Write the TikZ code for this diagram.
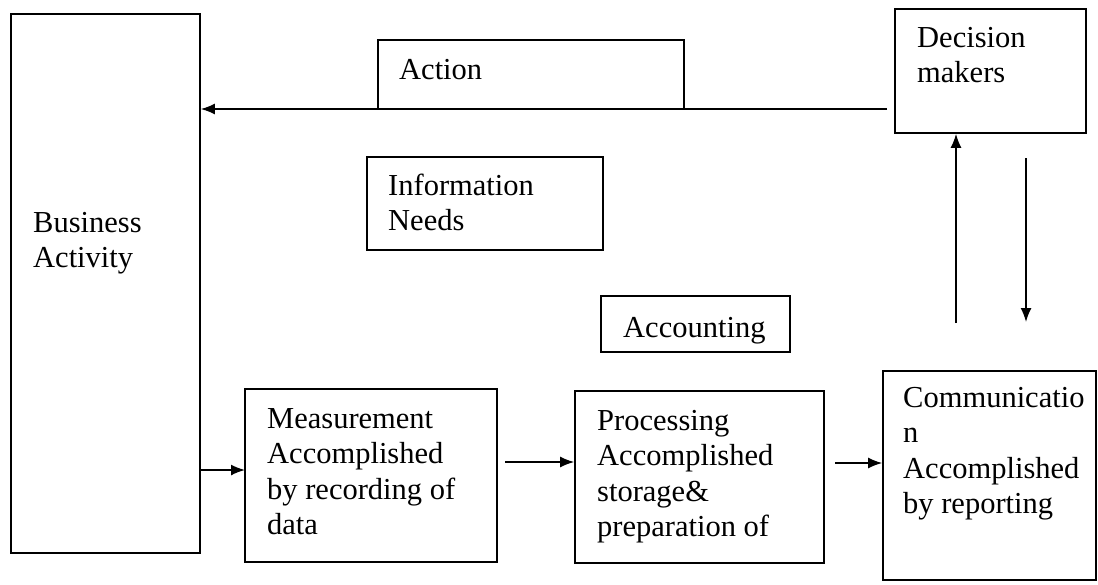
\documentclass[tikz,border=0pt]{standalone}
\usepackage{fontspec}
\setmainfont{Liberation Serif}
\usetikzlibrary{arrows.meta}
\begin{document}
\begin{tikzpicture}[x=1pt,y=-1pt,
  box/.style={draw, line width=1.6pt, inner sep=0pt},
  lbl/.style={anchor=base west, inner sep=0pt, align=left, font=\fontsize{30.5}{35.5}\selectfont},
  conn/.style={line width=1.6pt, -{Latex[length=14pt,width=11pt]}}]
\useasboundingbox (0,0) rectangle (1098,584);
% boxes
\node[box, minimum width=189pt, minimum height=539pt] (ba) at (105.5,283.5) {};
\node[box, minimum width=306pt, minimum height=69pt] (act) at (531,74.5) {};
\node[box, minimum width=191pt, minimum height=124pt] (dm) at (990.5,71) {};
\node[box, minimum width=236pt, minimum height=93pt] (inf) at (485,203.5) {};
\node[box, minimum width=189pt, minimum height=56pt] (acc) at (695.5,324) {};
\node[box, minimum width=252pt, minimum height=173pt] (meas) at (371,475.5) {};
\node[box, minimum width=249pt, minimum height=172pt] (proc) at (699.5,477) {};
\node[box, minimum width=213pt, minimum height=209pt] (comm) at (989.5,475.5) {};
% labels (anchor = baseline of the last line)
\node[lbl] (tba) at (33,267.5) {Business\\Activity};
\node[lbl] (tact) at (399,79) {Action};
\node[lbl] (tdm) at (917,82.5) {Decision\\makers};
\node[lbl] (tinf) at (388,230.5) {Information\\Needs};
\node[lbl] (tacc) at (623,337) {Accounting};
\node[lbl] (tmeas) at (267,534.5) {Measurement\\Accomplished\\by recording of\\data};
\node[lbl] (tproc) at (597,536.5) {Processing\\Accomplished\\storage\&\\preparation of};
\node[lbl] (tcomm) at (903,513.5) {Communicatio\\n\\Accomplished\\by reporting};
% connector ends
\coordinate (a0) at (887,109);
\coordinate (m1) at (245,470);
\coordinate (p0) at (505,462);
\coordinate (c0) at (835,463);
\coordinate (u0) at (956,323);
\coordinate (d0) at (1026,158);
\coordinate (d1) at (1026,322);
% connectors
\draw[conn] (a0) -- (ba.east |- a0);
\draw[conn] (ba.east |- m1) -- (m1);
\draw[conn] (p0) -- (proc.west |- p0);
\draw[conn] (c0) -- (comm.west |- c0);
\draw[conn] (u0) -- (dm.south -| u0);
\draw[conn] (d0) -- (d1);
\end{tikzpicture}
\end{document}
